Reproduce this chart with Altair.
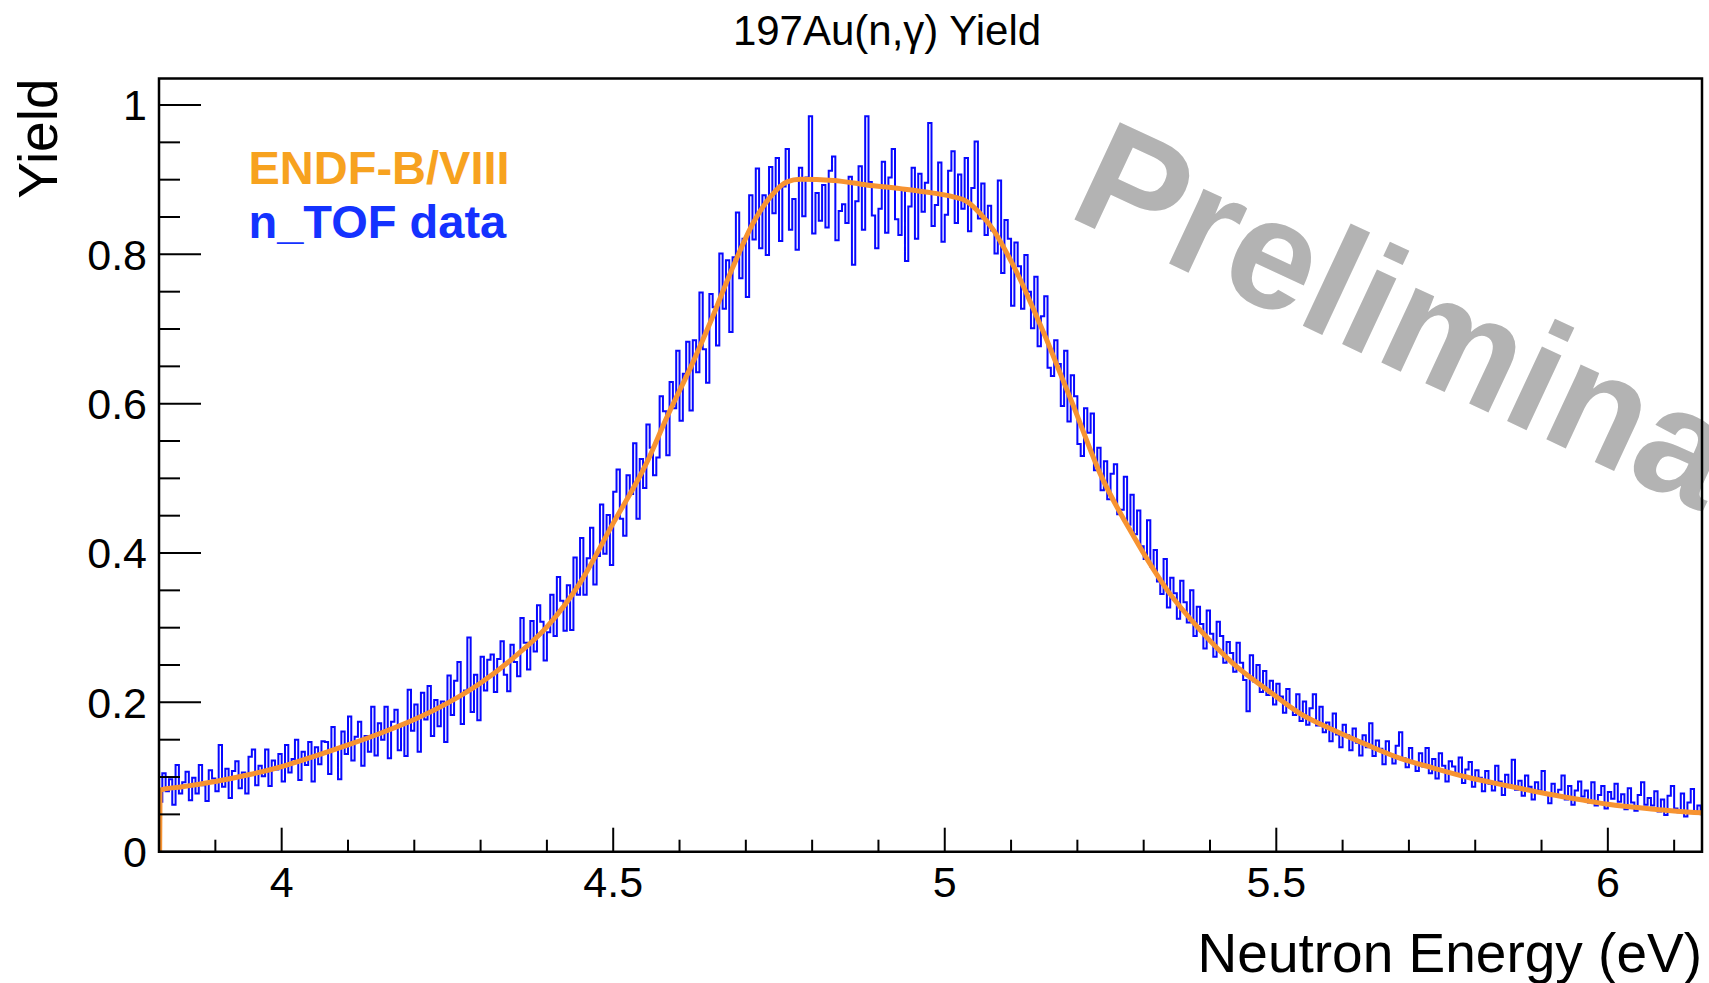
import altair as alt
import pandas as pd

# ---------------- texts ----------------
TITLE = "197Au(n,γ) Yield"
X_TITLE = "Neutron Energy (eV)"
Y_TITLE = "Yield"
LEGEND_ENDF = "ENDF-B/VIII"
LEGEND_DATA = "n_TOF data"
WATERMARK = "Preliminary"

# ---------------- axes ----------------
X_MIN, X_MAX = 3.815, 6.142
Y_MIN, Y_MAX = 0.0, 1.0355
x_major = [4, 4.5, 5, 5.5, 6]
x_labels = ["4", "4.5", "5", "5.5", "6"]
x_minor = [3.9, 4.1, 4.2, 4.3, 4.4, 4.6, 4.7, 4.8, 4.9, 5.1, 5.2, 5.3, 5.4,
           5.6, 5.7, 5.8, 5.9, 6.1]
y_major = [0, 0.2, 0.4, 0.6, 0.8, 1.0]
y_labels = ["0", "0.2", "0.4", "0.6", "0.8", "1"]
y_minor = [0.05, 0.1, 0.15, 0.25, 0.3, 0.35, 0.45, 0.5, 0.55, 0.65, 0.7, 0.75,
           0.85, 0.9, 0.95]

# ---------------- ENDF-B/VIII curve ----------------
endf_energy = [3.8160, 3.8166, 3.85, 3.90, 3.95, 4.00, 4.05, 4.10, 4.15, 4.20,
               4.25, 4.30, 4.35, 4.40, 4.45, 4.50, 4.55, 4.58, 4.62, 4.646,
               4.681, 4.711, 4.737, 4.762, 4.782, 4.832, 4.882, 4.933, 4.983, 5.013,
               5.033, 5.053, 5.073, 5.094, 5.114, 5.134, 5.154, 5.174, 5.194, 5.234,
               5.285, 5.335, 5.385, 5.435, 5.486, 5.536, 5.586, 5.637, 5.687, 5.737,
               5.787, 5.85, 5.90, 5.95, 6.00, 6.07, 6.142]
endf_yield = [0.0, 0.0826, 0.087, 0.094, 0.103, 0.114, 0.128, 0.143, 0.159, 0.177,
              0.199, 0.226, 0.26, 0.301, 0.36, 0.44, 0.52, 0.58, 0.655, 0.708,
              0.784, 0.842, 0.877, 0.897, 0.9005, 0.899, 0.893, 0.888, 0.882, 0.877,
              0.871, 0.855, 0.833, 0.801, 0.766, 0.726, 0.685, 0.641, 0.597, 0.507,
              0.422, 0.351, 0.297, 0.252, 0.217, 0.185, 0.163, 0.143, 0.125, 0.112,
              0.100, 0.088, 0.079, 0.071, 0.0635, 0.057, 0.052]

# ---------------- n_TOF histogram (bin width 0.005 eV from 3.815 eV) ----------------
BIN_START = 3.815
BIN_WIDTH = 0.005

ntof_a = [0.067, 0.105, 0.081, 0.097, 0.063, 0.116, 0.078, 0.093, 0.107, 0.069,
          0.099, 0.078, 0.116, 0.089, 0.068, 0.109, 0.098, 0.081, 0.143, 0.087,
          0.111, 0.072, 0.108, 0.121, 0.085, 0.106, 0.078, 0.127, 0.137, 0.089,
          0.115, 0.101, 0.137, 0.088, 0.122, 0.110, 0.131, 0.094, 0.143, 0.106,
          0.124, 0.150, 0.096, 0.134, 0.116, 0.147, 0.094, 0.140, 0.117, 0.148]
ntof_b = [0.147, 0.104, 0.167, 0.138, 0.097, 0.161, 0.131, 0.181, 0.122, 0.154,
          0.174, 0.115, 0.155, 0.134, 0.194, 0.129, 0.172, 0.150, 0.194, 0.125,
          0.174, 0.190, 0.136, 0.170, 0.128, 0.217, 0.162, 0.197, 0.134, 0.213,
          0.177, 0.222, 0.155, 0.203, 0.168, 0.201, 0.147, 0.236, 0.183, 0.229,
          0.254, 0.171, 0.216, 0.287, 0.187, 0.237, 0.176, 0.261, 0.216, 0.257]
ntof_c = [0.264, 0.214, 0.258, 0.282, 0.237, 0.215, 0.277, 0.254, 0.235, 0.313,
          0.280, 0.244, 0.309, 0.268, 0.330, 0.308, 0.256, 0.294, 0.344, 0.289,
          0.368, 0.336, 0.296, 0.357, 0.297, 0.394, 0.344, 0.420, 0.344, 0.393,
          0.434, 0.358, 0.396, 0.465, 0.399, 0.451, 0.384, 0.482, 0.512, 0.446,
          0.423, 0.504, 0.479, 0.547, 0.446, 0.526, 0.487, 0.572, 0.541, 0.504]
ntof_d = [0.528, 0.610, 0.590, 0.531, 0.629, 0.594, 0.671, 0.577, 0.640, 0.683,
          0.591, 0.685, 0.642, 0.749, 0.673, 0.628, 0.747, 0.729, 0.678, 0.801,
          0.727, 0.792, 0.696, 0.796, 0.856, 0.768, 0.821, 0.743, 0.879, 0.820,
          0.915, 0.808, 0.879, 0.799, 0.917, 0.855, 0.929, 0.818, 0.891, 0.941,
          0.833, 0.874, 0.806, 0.916, 0.851, 0.903, 0.985, 0.828, 0.882, 0.845]
ntof_e = [0.893, 0.836, 0.912, 0.931, 0.819, 0.858, 0.867, 0.842, 0.904, 0.786,
          0.871, 0.918, 0.833, 0.985, 0.897, 0.852, 0.808, 0.861, 0.924, 0.829,
          0.903, 0.941, 0.847, 0.826, 0.889, 0.791, 0.864, 0.916, 0.821, 0.908,
          0.857, 0.896, 0.976, 0.838, 0.866, 0.923, 0.817, 0.853, 0.912, 0.938,
          0.842, 0.907, 0.861, 0.929, 0.831, 0.889, 0.951, 0.848, 0.895, 0.826]
ntof_f = [0.865, 0.832, 0.801, 0.899, 0.775, 0.846, 0.821, 0.731, 0.816, 0.784,
          0.727, 0.799, 0.750, 0.701, 0.770, 0.677, 0.717, 0.744, 0.648, 0.637,
          0.685, 0.653, 0.597, 0.671, 0.576, 0.638, 0.610, 0.546, 0.530, 0.594,
          0.561, 0.587, 0.511, 0.541, 0.484, 0.523, 0.472, 0.506, 0.519, 0.452,
          0.458, 0.502, 0.438, 0.478, 0.425, 0.457, 0.409, 0.392, 0.444, 0.382]
ntof_g = [0.404, 0.362, 0.345, 0.392, 0.327, 0.367, 0.346, 0.312, 0.363, 0.334,
          0.307, 0.350, 0.289, 0.328, 0.305, 0.272, 0.323, 0.292, 0.261, 0.308,
          0.289, 0.253, 0.281, 0.266, 0.241, 0.280, 0.253, 0.230, 0.188, 0.263,
          0.228, 0.250, 0.214, 0.242, 0.210, 0.229, 0.197, 0.225, 0.208, 0.186,
          0.218, 0.193, 0.183, 0.211, 0.175, 0.201, 0.170, 0.192, 0.211, 0.169]
ntof_h = [0.194, 0.160, 0.173, 0.148, 0.185, 0.157, 0.140, 0.170, 0.156, 0.136,
          0.165, 0.146, 0.129, 0.156, 0.140, 0.172, 0.128, 0.149, 0.138, 0.117,
          0.148, 0.130, 0.118, 0.142, 0.160, 0.125, 0.113, 0.139, 0.120, 0.108,
          0.132, 0.114, 0.139, 0.105, 0.124, 0.098, 0.132, 0.115, 0.094, 0.121,
          0.114, 0.103, 0.126, 0.092, 0.110, 0.120, 0.087, 0.109, 0.099, 0.081]
ntof_i = [0.108, 0.091, 0.082, 0.115, 0.094, 0.076, 0.103, 0.088, 0.123, 0.083,
          0.095, 0.075, 0.102, 0.087, 0.070, 0.093, 0.082, 0.108, 0.078, 0.065,
          0.091, 0.076, 0.083, 0.102, 0.070, 0.088, 0.063, 0.082, 0.094, 0.074,
          0.082, 0.066, 0.093, 0.062, 0.076, 0.088, 0.058, 0.080, 0.071, 0.091,
          0.067, 0.077, 0.057, 0.085, 0.066, 0.055, 0.076, 0.093, 0.063, 0.072]
ntof_j = [0.062, 0.081, 0.054, 0.070, 0.049, 0.075, 0.088, 0.058, 0.053, 0.078,
          0.047, 0.066, 0.084, 0.052, 0.062, 0.050]

ntof_yield = (ntof_a + ntof_b + ntof_c + ntof_d + ntof_e + ntof_f + ntof_g
              + ntof_h + ntof_i + ntof_j)
ntof_energy = [BIN_START + BIN_WIDTH * (i + 0.5) for i in range(len(ntof_yield))]

# ---------------- layout ----------------
W, H = 1543, 773.2
PAD = {"left": 159, "top": 78.5, "right": 7, "bottom": 131.3}
FONT = "Liberation Sans"

xs = alt.Scale(domain=[X_MIN, X_MAX], nice=False, zero=False)
ys = alt.Scale(domain=[Y_MIN, Y_MAX], nice=False, zero=False)

df_ntof = pd.DataFrame({"E": ntof_energy, "Y": ntof_yield})
df_endf = pd.DataFrame({"E": endf_energy, "Y": endf_yield})


def one(s):
    return pd.DataFrame({"t": [s]})


watermark = alt.Chart(one(WATERMARK)).mark_text(
    font=FONT, fontWeight="bold", fontSize=156, color="#b3b3b3",
    angle=25, align="left", baseline="alphabetic"
).encode(x=alt.value(906), y=alt.value(136.5), text="t:N")

ntof = alt.Chart(df_ntof).mark_line(
    interpolate="step", color="#0808ff", strokeWidth=2, clip=True
).encode(
    x=alt.X("E:Q", scale=xs, axis=None),
    y=alt.Y("Y:Q", scale=ys, axis=None),
)

endf = alt.Chart(df_endf).mark_line(
    interpolate="monotone", color="#f79331", strokeWidth=5, clip=True
).encode(
    x=alt.X("E:Q", scale=xs, axis=None),
    y=alt.Y("Y:Q", scale=ys, axis=None),
)


def xticks(vals, length):
    return alt.Chart(pd.DataFrame({"v": vals})).mark_rule(
        color="black", strokeWidth=2
    ).encode(x=alt.X("v:Q", scale=xs, axis=None),
             y=alt.value(H), y2=alt.value(H - length))


def yticks(vals, length):
    return alt.Chart(pd.DataFrame({"v": vals})).mark_rule(
        color="black", strokeWidth=2
    ).encode(y=alt.Y("v:Q", scale=ys, axis=None),
             x=alt.value(0), x2=alt.value(length))


xlab = alt.Chart(pd.DataFrame({"v": x_major, "t": x_labels})).mark_text(
    font=FONT, fontSize=43, color="black", align="center", baseline="alphabetic"
).encode(x=alt.X("v:Q", scale=xs, axis=None), y=alt.value(818.2), text="t:N")

ylab = alt.Chart(pd.DataFrame({"v": y_major, "t": y_labels})).mark_text(
    font=FONT, fontSize=43, color="black", align="right", baseline="alphabetic",
    dy=15.4
).encode(y=alt.Y("v:Q", scale=ys, axis=None), x=alt.value(-12), text="t:N")

title = alt.Chart(one(TITLE)).mark_text(
    font=FONT, fontSize=42, color="black", align="center", baseline="alphabetic"
).encode(x=alt.value(728), y=alt.value(-33.5), text="t:N")

xtitle = alt.Chart(one(X_TITLE)).mark_text(
    font=FONT, fontSize=55, color="black", align="right", baseline="alphabetic"
).encode(x=alt.value(W), y=alt.value(893.2), text="t:N")

ytitle = alt.Chart(one(Y_TITLE)).mark_text(
    font=FONT, fontSize=55, color="black", align="right", baseline="alphabetic",
    angle=270
).encode(x=alt.value(-102), y=alt.value(0), text="t:N")

leg1 = alt.Chart(one(LEGEND_ENDF)).mark_text(
    font=FONT, fontSize=47, fontWeight="bold", color="#f7a21f",
    align="left", baseline="alphabetic"
).encode(x=alt.value(89.5), y=alt.value(105.5), text="t:N")

leg2 = alt.Chart(one(LEGEND_DATA)).mark_text(
    font=FONT, fontSize=47, fontWeight="bold", color="#1432ff",
    align="left", baseline="alphabetic"
).encode(x=alt.value(89.5), y=alt.value(159.8), text="t:N")

frame = alt.Chart(one("frame")).mark_rect(
    filled=False, stroke="black", strokeWidth=2.5
).encode(x=alt.value(0), x2=alt.value(W), y=alt.value(0), y2=alt.value(H))

chart = alt.layer(
    watermark, ntof, endf,
    xticks(x_major, 24), xticks(x_minor, 12),
    yticks(y_major, 42), yticks(y_minor, 21),
    xlab, ylab,
    title, xtitle, ytitle, leg1, leg2, frame,
).properties(
    width=W, height=H,
    autosize=alt.AutoSizeParams(type="none"),
    padding=PAD,
    background="white",
).configure_view(stroke="transparent")

chart.save("out.html", embed_options={"renderer": "svg", "actions": False})
